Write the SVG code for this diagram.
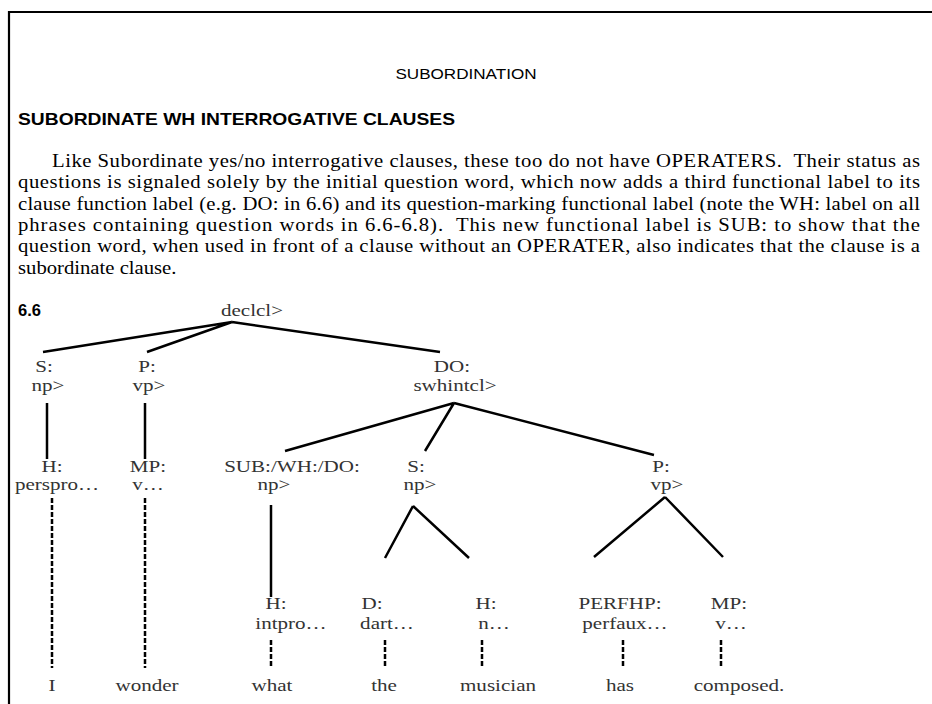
<svg xmlns="http://www.w3.org/2000/svg" width="932" height="704" viewBox="0 0 932 704">
<style>
.t{font-family:"Liberation Serif","Times New Roman",serif;font-size:17px;fill:#333;text-anchor:middle}
.p{font-family:"Liberation Serif","Times New Roman",serif;font-size:18px;fill:#000}
.h{font-family:"Liberation Sans",Arial,sans-serif;fill:#000}
.b{font-weight:bold;font-size:16.5px}
.e{stroke:#000;stroke-width:2.5;fill:none}
.d{stroke-dasharray:5 2}
</style>
<rect width="932" height="704" fill="#fff"/>
<path d="M9 712 V12 H940" fill="none" stroke="#000" stroke-width="2.2"/>
<g id="header">
<text class="h" font-size="15" text-anchor="middle" transform="translate(466 79) scale(1.14 1)">SUBORDINATION</text>
<text class="h b" transform="translate(18 125)" textLength="437" lengthAdjust="spacingAndGlyphs">SUBORDINATE WH INTERROGATIVE CLAUSES</text>
</g>
<g id="paragraph">
<text class="p" transform="translate(52 167) scale(1.15 1)" textLength="754.8" lengthAdjust="spacing">Like Subordinate yes/no interrogative clauses, these too do not have OPERATERS.&#160; Their status as</text>
<text class="p" transform="translate(18 188) scale(1.15 1)" textLength="784.3" lengthAdjust="spacing">questions is signaled solely by the initial question word, which now adds a third functional label to its</text>
<text class="p" transform="translate(18 210) scale(1.15 1)" textLength="784.3" lengthAdjust="spacing">clause function label (e.g. DO: in 6.6) and its question-marking functional label (note the WH: label on all</text>
<text class="p" transform="translate(18 231) scale(1.15 1)" textLength="784.3" lengthAdjust="spacing">phrases containing question words in 6.6-6.8).&#160; This new functional label is SUB: to show that the</text>
<text class="p" transform="translate(18 252) scale(1.15 1)" textLength="784.3" lengthAdjust="spacing">question word, when used in front of a clause without an OPERATER, also indicates that the clause is a</text>
<text class="p" transform="translate(18 274) scale(1.15 1)">subordinate clause.</text>
</g>
<g id="label-6-6"><text class="h b" x="18" y="316">6.6</text></g>
<g id="connectors">
<path class="e" d="M232 322 L43 352 M232 322 L147 352 M232 322 L440 352"/>
<path class="e" d="M47 403 V459 M145 403 V459"/>
<path class="e" d="M454 403 L285 451 M454 403 L425 451 M454 403 L654 455"/>
<path class="e" d="M271 505 V597"/>
<path class="e" d="M413 506 L385 558 M413 506 L469 558"/>
<path class="e" d="M665 497 L594 557 M665 497 L723 557"/>
<path class="e d" d="M52 498 V668 M145 498 V668"/>
<path class="e d" d="M271 640 V668 M385 640 V668 M482 640 V668 M623 640 V668 M721 640 V668"/>
</g>
<g id="n-declcl"><text class="t" transform="translate(252 316) scale(1.24 1)">declcl&gt;</text></g>
<g id="n-S"><text class="t" transform="translate(44 372) scale(1.24 1)">S:</text><text class="t" transform="translate(48 391) scale(1.24 1)">np&gt;</text></g>
<g id="n-P"><text class="t" transform="translate(147 372) scale(1.24 1)">P:</text><text class="t" transform="translate(149 391) scale(1.24 1)">vp&gt;</text></g>
<g id="n-DO"><text class="t" transform="translate(452 372) scale(1.24 1)">DO:</text><text class="t" transform="translate(455 391) scale(1.24 1)">swhintcl&gt;</text></g>
<g id="n-H1"><text class="t" transform="translate(52 472) scale(1.24 1)">H:</text><text class="t" transform="translate(57 490) scale(1.24 1)">perspro…</text></g>
<g id="n-MP1"><text class="t" transform="translate(148 472) scale(1.24 1)">MP:</text><text class="t" transform="translate(148 490) scale(1.24 1)">v…</text></g>
<g id="n-SUB"><text class="t" transform="translate(292 472) scale(1.24 1)">SUB:/WH:/DO:</text><text class="t" transform="translate(274 490) scale(1.24 1)">np&gt;</text></g>
<g id="n-S2"><text class="t" transform="translate(416 472) scale(1.24 1)">S:</text><text class="t" transform="translate(420 490) scale(1.24 1)">np&gt;</text></g>
<g id="n-P2"><text class="t" transform="translate(661 472) scale(1.24 1)">P:</text><text class="t" transform="translate(667 490) scale(1.24 1)">vp&gt;</text></g>
<g id="n-H2"><text class="t" transform="translate(276 609) scale(1.24 1)">H:</text><text class="t" transform="translate(291 629) scale(1.24 1)">intpro…</text></g>
<g id="n-D"><text class="t" transform="translate(372 609) scale(1.24 1)">D:</text><text class="t" transform="translate(387 629) scale(1.24 1)">dart…</text></g>
<g id="n-H3"><text class="t" transform="translate(486 609) scale(1.24 1)">H:</text><text class="t" transform="translate(494 629) scale(1.24 1)">n…</text></g>
<g id="n-PERFHP"><text class="t" transform="translate(620 609) scale(1.24 1)">PERFHP:</text><text class="t" transform="translate(625 629) scale(1.24 1)">perfaux…</text></g>
<g id="n-MP2"><text class="t" transform="translate(729 609) scale(1.24 1)">MP:</text><text class="t" transform="translate(731 629) scale(1.24 1)">v…</text></g>
<g id="w-I"><text class="t" transform="translate(52 691) scale(1.24 1)">I</text></g>
<g id="w-wonder"><text class="t" transform="translate(147 691) scale(1.24 1)">wonder</text></g>
<g id="w-what"><text class="t" transform="translate(272 691) scale(1.24 1)">what</text></g>
<g id="w-the"><text class="t" transform="translate(384 691) scale(1.24 1)">the</text></g>
<g id="w-musician"><text class="t" transform="translate(498 691) scale(1.24 1)">musician</text></g>
<g id="w-has"><text class="t" transform="translate(620 691) scale(1.24 1)">has</text></g>
<g id="w-composed"><text class="t" transform="translate(739 691) scale(1.24 1)">composed.</text></g>
</svg>
